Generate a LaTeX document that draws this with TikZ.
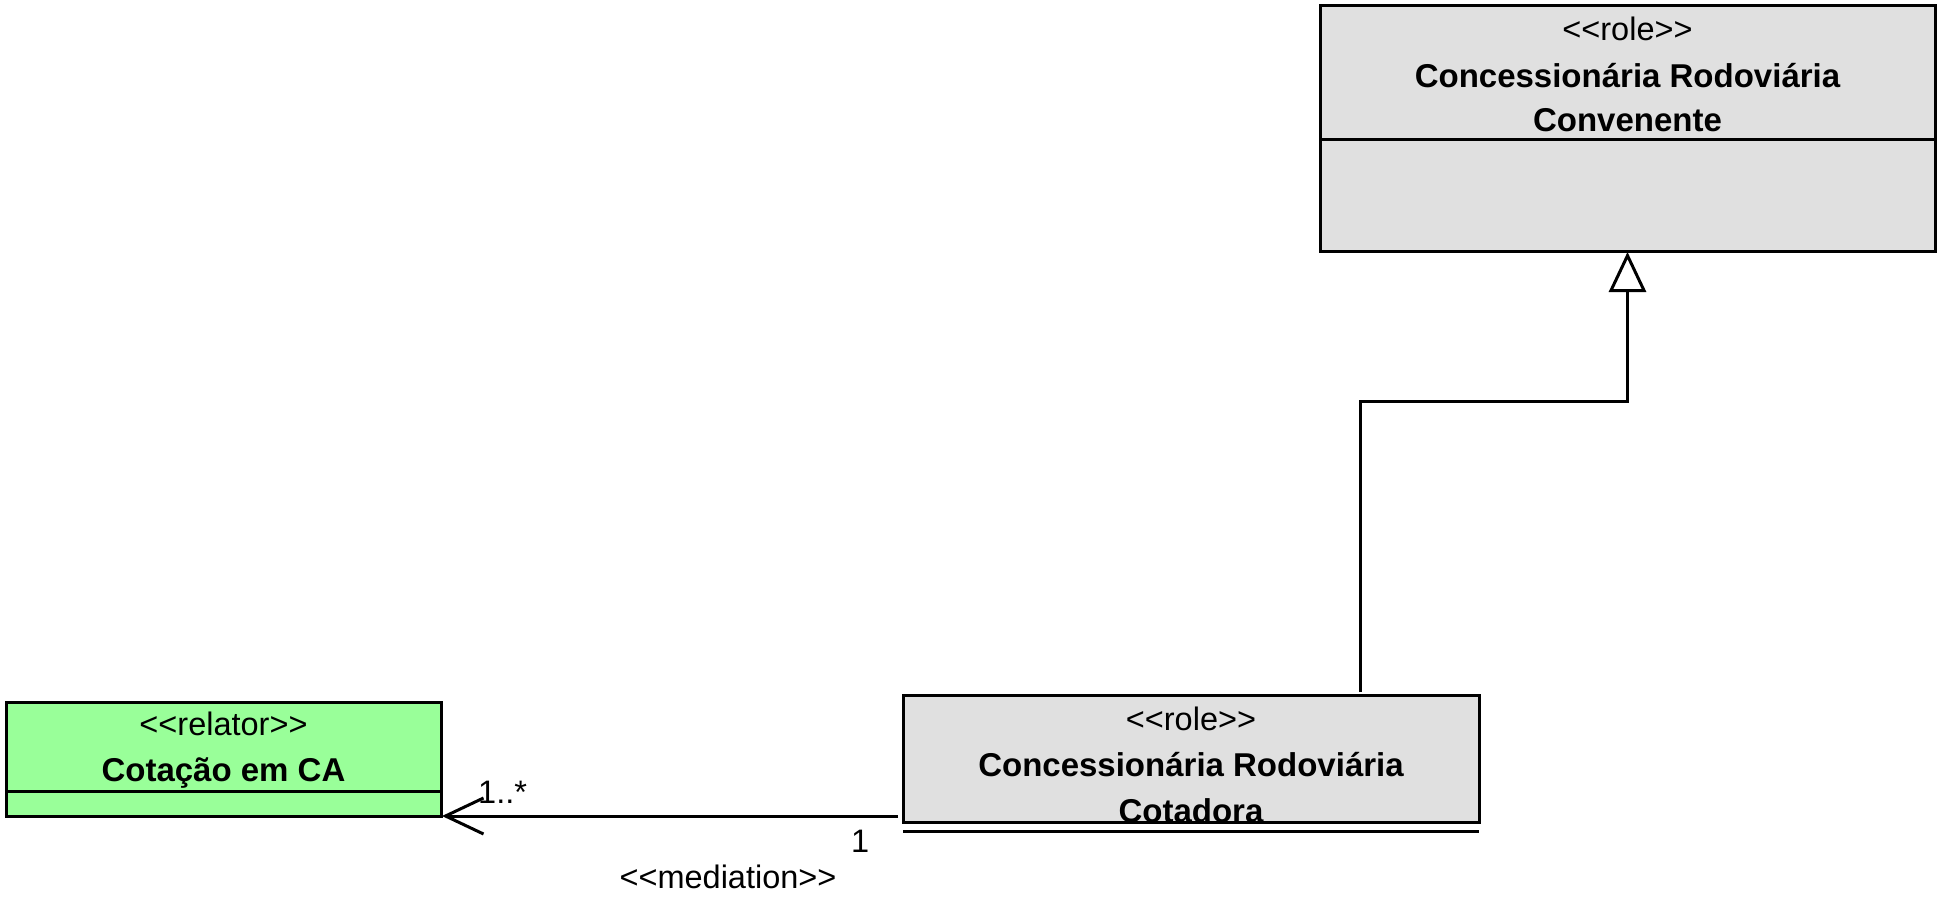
\documentclass[tikz,border=0pt]{standalone}
\usepackage{fontspec}
\setmainfont{Liberation Sans}
\usetikzlibrary{arrows.meta}
\definecolor{rolegray}{HTML}{E0E0E0}
\definecolor{relgreen}{HTML}{99FF99}
\newcommand\stl{<\kern0pt<}
\newcommand\stg{>\kern0pt>}
\begin{document}
\begin{tikzpicture}[x=1pt,y=-1pt,
  umlbox/.style={draw=black, line width=3pt, rectangle, inner sep=0pt, outer sep=0pt, anchor=north west},
  umlline/.style={draw=black, line width=3pt},
  sttext/.style={anchor=base, inner sep=0pt, font=\fontsize{32.5}{40}\selectfont},
  nmtext/.style={anchor=base, inner sep=0pt, font=\fontsize{33}{40}\selectfont\bfseries},
  lbl/.style={anchor=base west, inner sep=0pt, font=\fontsize{32.5}{40}\selectfont}]
\useasboundingbox (0,0) rectangle (1947,912);
% top box
\node[umlbox, fill=rolegray, minimum width=615pt, minimum height=246pt] (conv) at (1320,6) {};
\draw[umlline] (1320,140) -- (1935,140);
\node[sttext] (convst) at (1627.5,41) {\stl role\stg};
\node[nmtext] (convn1) at (1627.5,88) {Concessionária Rodoviária};
\node[nmtext] (convn2) at (1627.5,132) {Convenente};
% middle box
\node[umlbox, fill=rolegray, minimum width=576pt, minimum height=127pt] (cot) at (903,695) {};
\draw[umlline] (903,831) -- (1479,831);
\node[sttext] (cotst) at (1191,730) {\stl role\stg};
\node[nmtext] (cotn1) at (1191,776) {Concessionária Rodoviária};
\node[nmtext] (cotn2) at (1191,822) {Cotadora};
% left box
\node[umlbox, fill=relgreen, minimum width=435pt, minimum height=114pt] (rel) at (6,702) {};
\draw[umlline] (6,791) -- (441,791);
\node[sttext] (relst) at (223.5,735) {\stl relator\stg};
\node[nmtext] (reln) at (223.5,781) {Cotação em CA};
% generalization
\coordinate (gstart) at (1360,692);
\coordinate (gend) at (1627.5,252);
\draw[umlline, -{Triangle[open, length=40pt, width=37pt, line width=3pt]}] (gstart) |- (1627.5,401) -- (gend);
% mediation
\coordinate (mstart) at (898,816);
\coordinate (mend) at (442,816);
\draw[umlline, -{Straight Barb[length=38pt, width=36pt, line width=3pt]}] (mstart) -- (mend);
\node[lbl] (m1) at (478,803) {1..*};
\node[lbl] (m2) at (851,852) {1};
\node[sttext] (mst) at (728,888) {\stl mediation\stg};
\end{tikzpicture}
\end{document}
